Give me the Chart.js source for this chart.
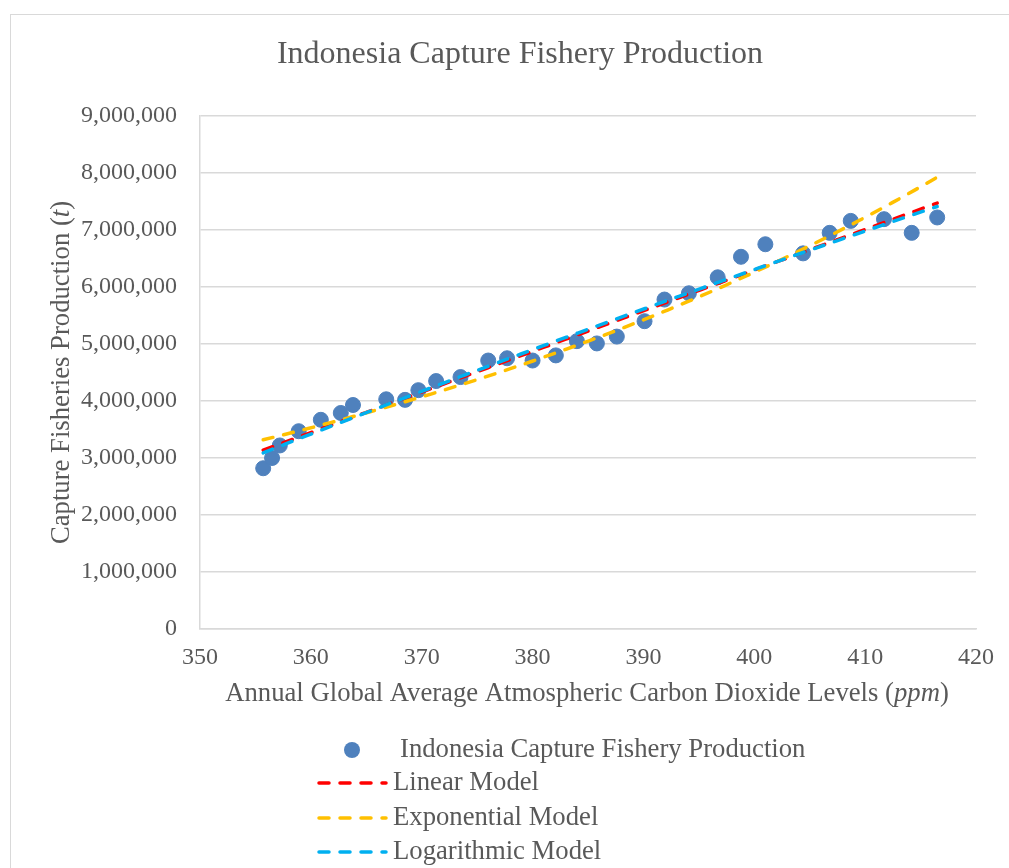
<!DOCTYPE html>
<html>
<head>
<meta charset="utf-8">
<script src="https://cdn.jsdelivr.net/npm/chart.js@4"></script>
<style>
  html, body { margin: 0; padding: 0; background: #fff; }
  #wrap { position: relative; width: 1009px; height: 868px; }
</style>
</head>
<body>
<div id="wrap"><canvas id="chart" width="1009" height="868"></canvas></div>
<script>
// CO2 (ppm) on x, production (t) on y, 1991-2021
const co2 = [355.7, 356.5, 357.2, 358.9, 360.9, 362.7, 363.8, 366.8, 368.5, 369.7,
  371.3, 373.5, 376.0, 377.7, 380.0, 382.1, 384.0, 385.8, 387.6, 390.1,
  391.9, 394.1, 396.7, 398.8, 401.0, 404.4, 406.8, 408.7, 411.7, 414.2, 416.5];
const production = [2820000, 3000000, 3220000, 3470000, 3670000, 3790000, 3930000, 4030000, 4020000, 4190000,
  4350000, 4420000, 4710000, 4750000, 4710000, 4800000, 5050000, 5010000, 5130000, 5400000,
  5780000, 5890000, 6170000, 6530000, 6750000, 6590000, 6950000, 7160000, 7190000, 6950000, 7220000];
const chartTitle = 'Indonesia Capture Fishery Production';
const seriesNames = ['Indonesia Capture Fishery Production', 'Linear Model', 'Exponential Model', 'Logarithmic Model'];
const xTicks = [350, 360, 370, 380, 390, 400, 410, 420];
const yTicks = [0, 1000000, 2000000, 3000000, 4000000, 5000000, 6000000, 7000000, 8000000, 9000000];

const textColor = '#595959';
const gridColor = '#d9d9d9';
const colors = ['#4f81bd', '#ff0000', '#ffc000', '#00b0f0'];

// least squares fit of y = a + b*u
function fit(us, ys) {
  const n = us.length;
  let su = 0, sy = 0, suu = 0, suy = 0;
  for (let i = 0; i < n; i++) {
    su += us[i]; sy += ys[i]; suu += us[i] * us[i]; suy += us[i] * ys[i];
  }
  const b = (n * suy - su * sy) / (n * suu - su * su);
  return { a: (sy - b * su) / n, b: b };
}
const lin = fit(co2, production);
const expo = fit(co2, production.map(v => Math.log(v)));
const logm = fit(co2.map(v => Math.log(v)), production);

function trend(f) {
  const lo = Math.min(...co2), hi = Math.max(...co2);
  const pts = [];
  for (let i = 0; i <= 60; i++) {
    const x = lo + (hi - lo) * i / 60;
    pts.push({ x: x, y: f(x) });
  }
  return pts;
}

const trendStyle = {
  showLine: true, pointRadius: 0, pointHoverRadius: 0, borderWidth: 3.5,
  borderDash: [10, 11], borderCapStyle: 'round', tension: 0, fill: false
};

// chart frame, title, axis titles with italic units, stacked legend
const extras = {
  id: 'extras',
  beforeDraw(chart) {
    const ctx = chart.ctx;
    ctx.save();
    ctx.strokeStyle = gridColor;
    ctx.lineWidth = 1;
    ctx.strokeRect(10.5, 14.5, 1200, 1200);
    ctx.restore();
  },
  afterDraw(chart) {
    const ctx = chart.ctx;
    const area = chart.chartArea;
    ctx.save();
    ctx.fillStyle = textColor;
    ctx.textBaseline = 'middle';

    ctx.font = '32px "Liberation Serif"';
    ctx.textAlign = 'center';
    ctx.fillText(chartTitle, 520, 55);

    function mixed(parts, cx, cy, size) {
      let w = 0;
      parts.forEach(p => {
        ctx.font = (p[1] ? 'italic ' : '') + size + 'px "Liberation Serif"';
        w += ctx.measureText(p[0]).width;
      });
      let x = cx - w / 2;
      ctx.textAlign = 'left';
      parts.forEach(p => {
        ctx.font = (p[1] ? 'italic ' : '') + size + 'px "Liberation Serif"';
        ctx.fillText(p[0], x, cy);
        x += ctx.measureText(p[0]).width;
      });
    }

    mixed([['Annual Global Average Atmospheric Carbon Dioxide Levels (', false], ['ppm', true], [')', false]],
      587, 694, 26.7);

    ctx.save();
    ctx.translate(62, (area.top + area.bottom) / 2);
    ctx.rotate(-Math.PI / 2);
    mixed([['Capture Fisheries Production (', false], ['t', true], [')', false]], 0, 0, 26.7);
    ctx.restore();

    // legend
    ctx.font = '26.7px "Liberation Serif"';
    ctx.textAlign = 'left';
    ctx.fillStyle = colors[0];
    ctx.beginPath();
    ctx.arc(352, 750, 8, 0, Math.PI * 2);
    ctx.fill();
    ctx.fillStyle = textColor;
    ctx.fillText(seriesNames[0], 400, 750);
    const rows = [783, 818, 852];
    for (let i = 1; i < 4; i++) {
      const y = rows[i - 1];
      ctx.strokeStyle = colors[i];
      ctx.lineWidth = 3.5;
      ctx.lineCap = 'round';
      ctx.setLineDash([10, 11]);
      ctx.beginPath();
      ctx.moveTo(319, y);
      ctx.lineTo(386, y);
      ctx.stroke();
      ctx.setLineDash([]);
      ctx.fillText(seriesNames[i], 393, y);
    }
    ctx.restore();
  }
};

const ctx = document.getElementById('chart').getContext('2d');
new Chart(ctx, {
  type: 'scatter',
  data: {
    datasets: [
      {
        label: seriesNames[0],
        data: co2.map((x, i) => ({ x: x, y: production[i] })),
        backgroundColor: colors[0], borderColor: colors[0],
        pointRadius: 7.5, pointHoverRadius: 7.5, order: 4
      },
      Object.assign({ label: seriesNames[1], data: trend(x => lin.a + lin.b * x),
        borderColor: colors[1], backgroundColor: colors[1], order: 3 }, trendStyle),
      Object.assign({ label: seriesNames[2], data: trend(x => Math.exp(expo.a + expo.b * x)),
        borderColor: colors[2], backgroundColor: colors[2], order: 2 }, trendStyle),
      Object.assign({ label: seriesNames[3], data: trend(x => logm.a + logm.b * Math.log(x)),
        borderColor: colors[3], backgroundColor: colors[3], order: 1 }, trendStyle)
    ]
  },
  options: {
    responsive: false,
    animation: false,
    layout: { padding: { top: 116, left: 0, right: 33, bottom: 189 } },
    plugins: {
      legend: { display: false },
      tooltip: { enabled: false },
      title: { display: false }
    },
    scales: {
      x: {
        type: 'linear', min: 350, max: 420,
        afterBuildTicks: s => { s.ticks = xTicks.map(v => ({ value: v })); },
        afterFit: s => { s.height = 50; },
        grid: { display: false, drawTicks: false },
        border: { display: true, color: gridColor, width: 1.5 },
        ticks: { color: textColor, padding: 14, maxRotation: 0,
          font: { family: 'Liberation Serif', size: 24 } }
      },
      y: {
        type: 'linear', min: 0, max: 9000000,
        afterBuildTicks: s => { s.ticks = yTicks.map(v => ({ value: v })); },
        afterFit: s => { s.width = 200; },
        grid: { color: gridColor, lineWidth: 1.5, drawTicks: false },
        border: { display: true, color: gridColor, width: 1.5 },
        ticks: { color: textColor, padding: 23,
          font: { family: 'Liberation Serif', size: 24 },
          callback: v => v.toLocaleString('en-US') }
      }
    }
  },
  plugins: [extras]
});
</script>
</body>
</html>
